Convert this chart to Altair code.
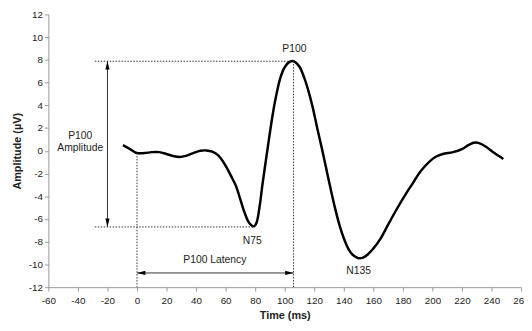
import altair as alt
import pandas as pd

# ---- data ----
time_ms = [-9.5, -6, -3, 0, 5, 10, 15, 20, 25, 29, 33, 38, 43, 47, 51, 55, 58, 61, 64,
           67, 70, 73, 76, 79.3, 81, 83, 85, 88.3, 91.6, 94, 97, 100, 103, 106, 110,
           113, 116, 119, 122, 125, 128, 131, 134, 137, 140, 143, 146, 150, 153, 156,
           160, 165, 170, 176, 181.5, 187, 192, 198, 202, 207, 214, 220, 225, 229, 232,
           236, 242, 248]
amp_uv = [0.5, 0.25, 0.0, -0.2, -0.2, -0.12, -0.12, -0.28, -0.48, -0.55, -0.45, -0.2,
          0.0, 0.03, -0.08, -0.4, -0.9, -1.55, -2.3, -3.1, -4.3, -5.5, -6.35, -6.65, -6.3,
          -4.9, -2.9, 0.09, 2.97, 4.7, 6.4, 7.35, 7.8, 7.88, 7.4, 6.5, 5.3, 3.8, 2.0, 0.3,
          -1.5, -3.3, -5.0, -6.5, -7.7, -8.6, -9.15, -9.45, -9.4, -9.15, -8.6, -7.7, -6.5,
          -5.1, -3.9, -2.8, -1.8, -0.95, -0.55, -0.28, -0.12, 0.15, 0.55, 0.72, 0.65, 0.37,
          -0.2, -0.72]

x_ticks = list(range(-60, 261, 20))
y_ticks = list(range(-12, 13, 2))

# dotted guide lines
guide_x = [-28.5, -28.5, 0, 106]
guide_x2 = [106, 79.3, 0, 106]
guide_y = [7.88, -6.7, -0.2, 7.88]
guide_y2 = [7.88, -6.7, -12, -12]

# arrow shafts
arrow_x = [-20, 0]
arrow_x2 = [-20, 106]
arrow_y = [-6.7, -10.75]
arrow_y2 = [7.88, -10.75]

# arrow heads
head_x = [-20, -20, 0, 106]
head_y = [7.88, -6.7, -10.75, -10.75]
head_dir = ["up", "down", "left", "right"]

# annotations
label_text = ["P100", "N75", "N135", "P100 Latency", "P100", "Amplitude"]
label_x = [106.5, 78, 150, 52.7, -38.4, -38.4]
label_y = [8.95, -7.95, -10.55, -9.6, 1.3, 0.2]

FONT = "Liberation Sans"

xs = alt.Scale(domain=[-60, 260], nice=False, zero=False)
ys = alt.Scale(domain=[-12, 12], nice=False, zero=False)
x_axis = alt.Axis(values=x_ticks, title="Time (ms)", labelOverlap=False, labelFlush=False,
                  labelExpr="'' + datum.value")
y_axis = alt.Axis(values=y_ticks, title="Amplitude (µV)", labelOverlap=False,
                  labelExpr="'' + datum.value")

X = lambda f: alt.X(f, scale=xs, axis=x_axis)
Y = lambda f: alt.Y(f, scale=ys, axis=y_axis)

curve_df = pd.DataFrame({"t": time_ms, "a": amp_uv})
guide_df = pd.DataFrame({"x": guide_x, "x2": guide_x2, "y": guide_y, "y2": guide_y2})
arrow_df = pd.DataFrame({"x": arrow_x, "x2": arrow_x2, "y": arrow_y, "y2": arrow_y2})
head_df = pd.DataFrame({"x": head_x, "y": head_y, "d": head_dir})
label_df = pd.DataFrame({"text": label_text, "x": label_x, "y": label_y})

curve = alt.Chart(curve_df).mark_line(
    color="black", strokeWidth=2.5, interpolate="catmull-rom"
).encode(x=X("t:Q"), y=Y("a:Q"))

guides = alt.Chart(guide_df).mark_rule(
    color="#333", strokeWidth=1, strokeDash=[1.5, 1.5]
).encode(x=X("x:Q"), x2="x2:Q", y=Y("y:Q"), y2="y2:Q")

arrows = alt.Chart(arrow_df).mark_rule(color="#333", strokeWidth=1).encode(
    x=X("x:Q"), x2="x2:Q", y=Y("y:Q"), y2="y2:Q"
)

shapes = {
    "up": "M0,0L0.5,2L-0.5,2Z",
    "down": "M0,0L0.5,-2L-0.5,-2Z",
    "left": "M0,0L2,-0.5L2,0.5Z",
    "right": "M0,0L-2,-0.5L-2,0.5Z",
}
heads = alt.layer(*[
    alt.Chart(head_df).transform_filter(alt.datum.d == k).mark_point(
        shape=v, filled=True, color="black", size=72, opacity=1, strokeWidth=0
    ).encode(x=X("x:Q"), y=Y("y:Q"))
    for k, v in shapes.items()
])

labels = alt.Chart(label_df).mark_text(
    font=FONT, fontSize=10.5, color="#222", align="center", baseline="middle"
).encode(x=X("x:Q"), y=Y("y:Q"), text="text:N")

chart = alt.layer(curve, guides, arrows, heads, labels).properties(
    width=480, height=277,
    autosize=alt.AutoSizeParams(type="none"),
    padding={"left": 41, "top": 4, "right": 3, "bottom": 41},
).configure_view(stroke=None).configure_axis(
    grid=False,
    domainColor="#999",
    tickColor="#999",
    tickSize=4,
    labelColor="#222",
    labelFont=FONT,
    labelFontSize=10,
    titleFont=FONT,
    titleFontSize=11,
    titleFontWeight="bold",
    titleColor="#222",
).configure_axisX(labelPadding=5, titlePadding=4
).configure_axisY(labelPadding=2, titlePadding=6)

chart.save("out.html", embed_options={"renderer": "svg", "actions": False})
